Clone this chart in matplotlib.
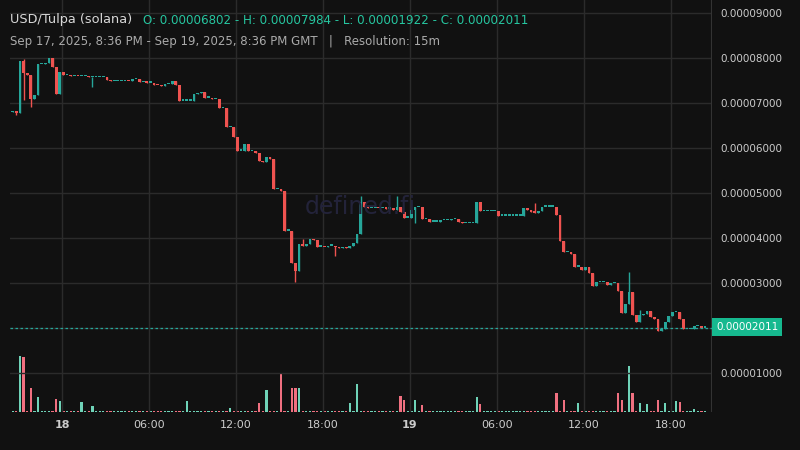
import matplotlib
matplotlib.use("Agg")
import matplotlib.pyplot as plt
import numpy as np

# prices in units of 1e-5
open0 = 6.802
closes = [6.82, 6.78, 7.93, 7.67, 7.62, 7.09, 7.18, 7.87, 7.87, 7.90, 8.00, 7.79, 7.21, 7.68, 7.62,
          7.62, 7.60, 7.60, 7.59, 7.59, 7.59, 7.58, 7.58, 7.58, 7.58, 7.58,
          7.51, 7.49, 7.49, 7.49, 7.49, 7.50, 7.49, 7.53, 7.53, 7.46, 7.46, 7.45, 7.45, 7.41, 7.40, 7.38,
          7.42, 7.42, 7.48, 7.40, 7.05, 7.05, 7.05, 7.05, 7.20, 7.22, 7.24, 7.12, 7.12, 7.09, 7.09,
          6.88, 6.88, 6.47, 6.47, 6.25, 5.94, 5.94, 6.09, 5.93, 5.93, 5.88, 5.72, 5.69, 5.79, 5.76,
          5.08, 5.10, 5.05, 4.16, 4.16, 3.45, 3.27, 3.87, 3.82, 3.87, 3.98, 3.95, 3.81, 3.81, 3.80,
          3.83, 3.83, 3.79, 3.77, 3.80, 3.78, 3.82, 3.90, 4.09, 4.80, 4.68,
          4.66, 4.66, 4.67, 4.66, 4.66, 4.65, 4.66, 4.63, 4.68, 4.58, 4.45, 4.45, 4.62, 4.68, 4.68,
          4.42, 4.42, 4.36, 4.36, 4.36, 4.40, 4.40, 4.40, 4.42, 4.42, 4.35, 4.33, 4.33, 4.33, 4.33,
          4.81, 4.59, 4.60, 4.60, 4.60, 4.60, 4.50, 4.50, 4.50, 4.50, 4.50, 4.50, 4.50, 4.66, 4.62,
          4.58, 4.56, 4.60, 4.70, 4.70, 4.70, 4.70, 4.52, 3.94, 3.68, 3.68, 3.65, 3.36, 3.36, 3.30,
          3.36, 3.23, 2.94, 3.02, 3.02, 3.02, 2.96, 3.00, 3.00, 2.82, 2.34, 2.53, 2.80, 2.30, 2.14,
          2.29, 2.32, 2.37, 2.24, 2.20, 1.94, 1.98, 2.13, 2.27, 2.35, 2.35, 2.19, 1.97, 1.97, 1.97,
          2.04, 2.04, 2.01, 2.011]
# extra wicks: (candle index, high, low)
wicks = [(1, 6.82, 6.74), (3, 7.98, 7.07), (5, 7.62, 6.91), (22, 7.58, 7.36), (78, 3.45, 3.03),
         (80, 3.98, 3.82), (89, 3.83, 3.61), (96, 4.93, 4.09), (106, 4.93, 4.63), (111, 4.62, 4.34),
         (144, 4.78, 4.56), (170, 3.24, 2.53), (173, 2.40, 2.29)]
# volume: (candle index, relative height); others small
vol_big = [(2, 0.90), (3, 0.88), (5, 0.38), (7, 0.24), (12, 0.21), (13, 0.17), (19, 0.16), (22, 0.10),
           (48, 0.17), (60, 0.06), (74, 0.62), (77, 0.38), (78, 0.39), (79, 0.39), (70, 0.35), (68, 0.15),
           (95, 0.45), (93, 0.15), (107, 0.26), (108, 0.20), (111, 0.20), (113, 0.12), (128, 0.25),
           (129, 0.13), (150, 0.30), (152, 0.20), (156, 0.15), (167, 0.30), (170, 0.75), (168, 0.19),
           (171, 0.30), (173, 0.14), (175, 0.13), (178, 0.19), (180, 0.15), (183, 0.17), (184, 0.16),
           (188, 0.05)]
vol_base = 0.02

GREEN = "#26a69a"
RED = "#ef5350"
BG = "#111111"

n = len(closes)
opens = [open0] + closes[:-1]
highs = [max(o, c) for o, c in zip(opens, closes)]
lows = [min(o, c) for o, c in zip(opens, closes)]
for i, h, l in wicks:
    if i < n:
        highs[i] = max(highs[i], h); lows[i] = min(lows[i], l)
vols = [vol_base] * n
for i, v in vol_big:
    if i < n:
        vols[i] = v

fig = plt.figure(figsize=(8, 4.5), dpi=100, facecolor=BG)
ax = fig.add_axes([10/800, 38/450, 702/800, 412/450])
ax.set_facecolor(BG)
axv = ax.twinx()
axv.set_zorder(0); ax.set_zorder(1); ax.patch.set_visible(False)

x = np.arange(n)
cols = [GREEN if c >= o else RED for o, c in zip(opens, closes)]
bottoms = [min(o, c) for o, c in zip(opens, closes)]
heights = [max(abs(c - o), 0.03) for o, c in zip(opens, closes)]
ax.vlines(x, lows, highs, colors=cols, linewidth=1, zorder=3)
ax.bar(x, heights, bottom=bottoms, width=0.75, color=cols, zorder=4)

vcols = ["#6fd3b8" if c == GREEN else "#f07080" for c in cols]
axv.bar(x, vols, width=0.6, color=vcols)
axv.set_ylim(0, 1.0 * 412 / 62)
axv.set_yticks([])
for s in axv.spines.values():
    s.set_visible(False)

# time axis: start Sep 17 20:36, 15m candles
t0 = 13.6  # candle offset of Sep 18 00:00
tick_pos = [t0 + k * 24 for k in range(8)]
tick_lab = ["18", "06:00", "12:00", "18:00", "19", "06:00", "12:00", "18:00"]
ax.set_xlim(t0 - 52 / 87 * 24, t0 + 650 / 87 * 24)
ax.set_ylim((418 - 412) / 45, 418 / 45)
ax.set_xticks(tick_pos)
ax.set_xticklabels(tick_lab, color="#cccccc", fontsize=8)
for lbl in ax.get_xticklabels():
    if lbl.get_text() in ("18", "19"):
        lbl.set_fontweight("bold")
ax.yaxis.tick_right()
yt = list(range(1, 10))
ax.set_yticks(yt)
ax.set_yticklabels(["" if v == 2 else f"0.0000{v}000" for v in yt], color="#cccccc", fontsize=7.5)
ax.tick_params(length=0, pad=6)
ax.grid(True, color="#2b2b2b", linewidth=1)
for s in ax.spines.values():
    s.set_visible(False)
ax.axvline(ax.get_xlim()[1], color="#333333", linewidth=1.5)

last = closes[-1]
ax.axhline(last, color=GREEN, linestyle=(0, (2, 2)), linewidth=0.9, zorder=5)
fig.text(716/800, 1 - 327/450, "0.00002011",
         fontsize=7.5, color="white", va="center", ha="left",
         bbox=dict(boxstyle="square,pad=0.35", fc="#16b98f", ec="none"))

fig.text(10/800, 1 - 20/450, "USD/Tulpa (solana)", color="#d8d8d8", fontsize=9.3, va="center")
fig.text(143/800, 1 - 20/450, "O: 0.00006802 - H: 0.00007984 - L: 0.00001922 - C: 0.00002011",
         color="#26c6a0", fontsize=8.6, va="center")
fig.text(10/800, 1 - 41/450, "Sep 17, 2025, 8:36 PM - Sep 19, 2025, 8:36 PM GMT   |   Resolution: 15m",
         color="#aaaaaa", fontsize=8.5, va="center")
fig.text(360/800, 1 - 207/450, "defined.fi", color="#23233a", fontsize=17, ha="center", va="center")

fig.savefig("out.png", dpi=100, facecolor=BG)
